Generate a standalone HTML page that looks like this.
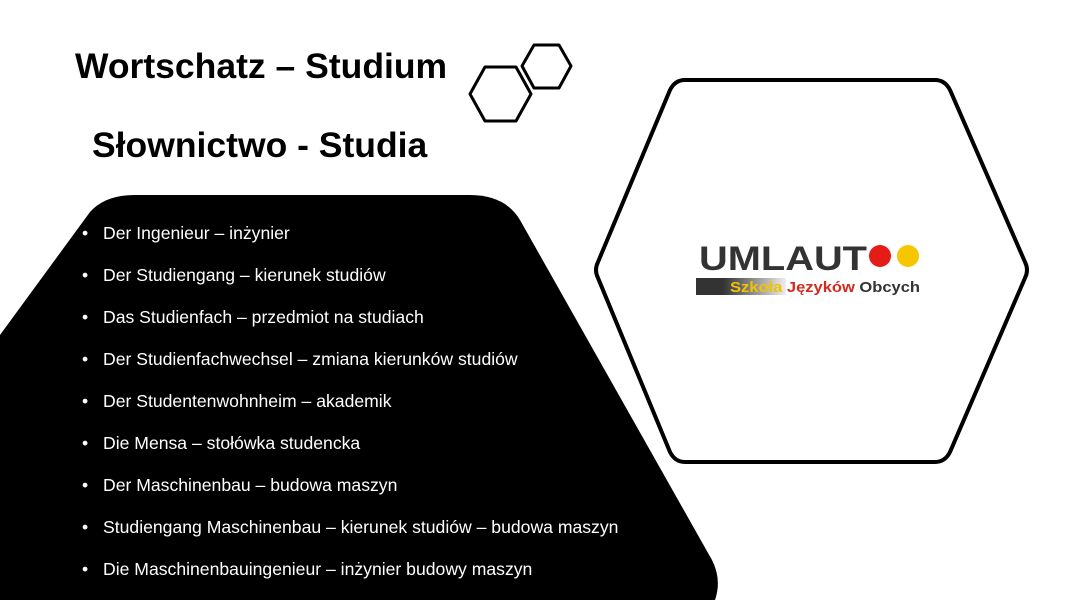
<!DOCTYPE html>
<html><head><meta charset="utf-8"><style>
body{margin:0;width:1082px;height:600px;overflow:hidden;background:#fff;font-family:"Liberation Sans",sans-serif;position:relative}
.t{position:absolute;font-weight:bold;color:#000;white-space:nowrap}
ul{position:absolute;left:82px;top:222px;margin:0;padding:0;list-style:none;color:#fff;font-size:17.6px}
li{height:42px;line-height:22px;white-space:nowrap}
li:before{content:"•";display:inline-block;width:21px}
</style></head><body>
<svg width="1082" height="600" style="position:absolute;left:0;top:0">
<path d="M90,212 Q105,195 135,195 L470,195 Q505,195 520,220 L712,560 Q722,580 715,600 L0,600 L0,335 Z" fill="#000"/>
<path d="M685,80 L935,80 Q945,80 950,90 L1025,262 Q1029,270 1025,278 L950,452 Q945,462 935,462 L685,462 Q675,462 670,452 L598,278 Q594,270 598,262 L670,90 Q675,80 685,80 Z" fill="#fff" stroke="#000" stroke-width="4"/>
<polygon points="485,67 516,67 531,94 516,121 485,121 470,94" fill="none" stroke="#000" stroke-width="3" stroke-linejoin="round"/>
<polygon points="534,45 559,45 571,66 559,88 534,88 522,66" fill="none" stroke="#000" stroke-width="3" stroke-linejoin="round"/>
<defs><linearGradient id="g" x1="0" x2="1"><stop offset="0.3" stop-color="#333"/><stop offset="1" stop-color="#eee"/></linearGradient></defs>
<rect x="696" y="278" width="90" height="17" fill="url(#g)"/>
<circle cx="880" cy="256" r="11" fill="#e41b17"/>
<circle cx="908" cy="256" r="11" fill="#f7c600"/>
<text x="699" y="270" font-family="Liberation Sans" font-weight="bold" font-size="34" fill="#333" textLength="168" lengthAdjust="spacingAndGlyphs">UMLAUT</text>
<text x="730" y="292" font-family="Liberation Sans" font-weight="bold" font-size="15" textLength="190" lengthAdjust="spacingAndGlyphs"><tspan fill="#f2c200">Szkoła </tspan><tspan fill="#d42a1e">Języków </tspan><tspan fill="#333">Obcych</tspan></text>
</svg>
<div class="t" style="left:75px;top:46px;font-size:35.5px">Wortschatz – Studium</div>
<div class="t" style="left:92px;top:125px;font-size:35.5px">Słownictwo - Studia</div>
<ul>
<li>Der Ingenieur – inżynier</li>
<li>Der Studiengang – kierunek studiów</li>
<li>Das Studienfach – przedmiot na studiach</li>
<li>Der Studienfachwechsel – zmiana kierunków studiów</li>
<li>Der Studentenwohnheim – akademik</li>
<li>Die Mensa – stołówka studencka</li>
<li>Der Maschinenbau – budowa maszyn</li>
<li>Studiengang Maschinenbau – kierunek studiów – budowa maszyn</li>
<li>Die Maschinenbauingenieur – inżynier budowy maszyn</li>
</ul>
</body></html>
